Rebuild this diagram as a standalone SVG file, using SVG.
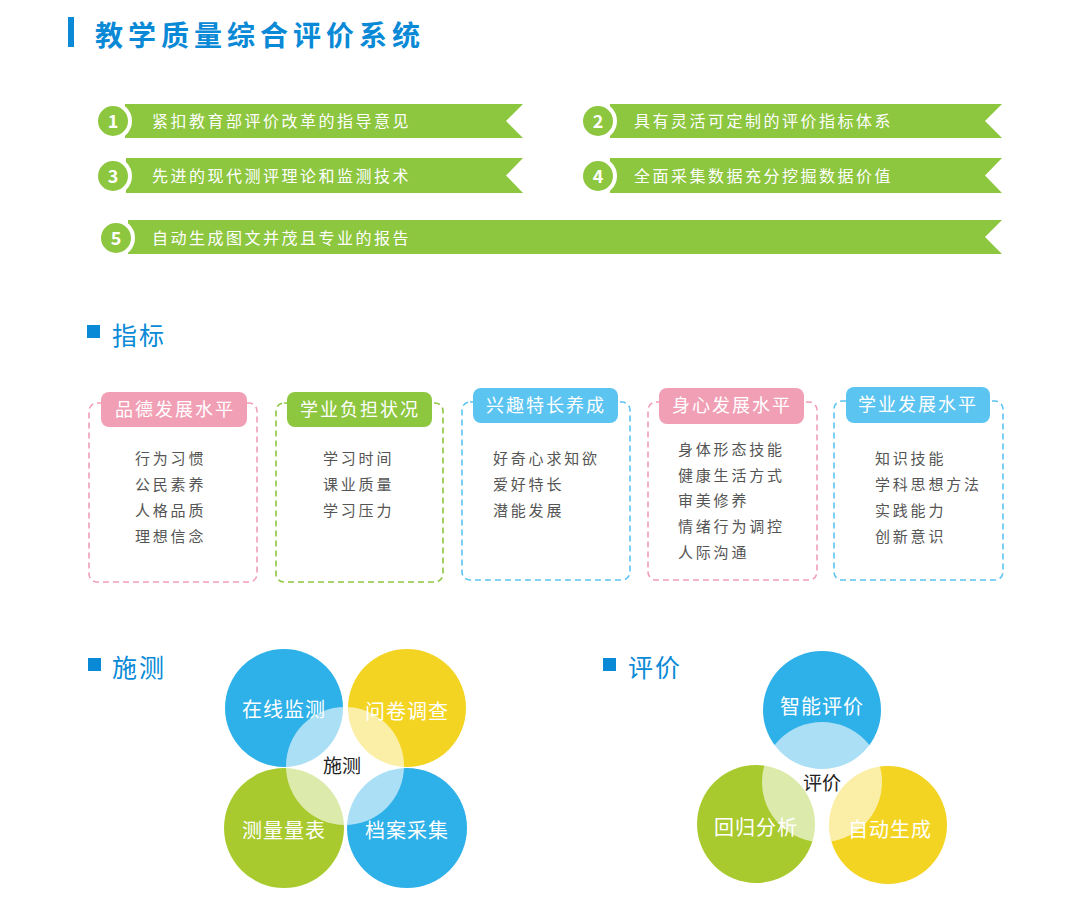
<svg xmlns="http://www.w3.org/2000/svg" width="1076" height="918" viewBox="0 0 1076 918">
<style>
text{font-family:"Noto Sans CJK SC","Noto Sans",sans-serif}
.banner{fill:#8DC63F}
.num{fill:#8DC63F;stroke:#fff;stroke-width:4}
.numt{fill:#fff;font-size:18px;font-weight:bold;text-anchor:middle}
.bt{fill:#fff;font-size:16px;letter-spacing:2.5px}
.h2{fill:#0A8AD6;font-size:25px;letter-spacing:2px}
.sq{fill:#0A8AD6}
.box{fill:none;stroke-width:1.6;stroke-dasharray:6 4}
.pt{fill:#fff;font-size:18px;letter-spacing:2px;text-anchor:middle}
.it{fill:#555;font-size:15px;letter-spacing:2.8px}
.ct{fill:#fff;font-size:20px;text-anchor:middle;letter-spacing:1px}
.cc{fill:#222;font-size:19px;text-anchor:middle}
.ov{fill:#fff;fill-opacity:0.6}
</style>
<rect width="1076" height="918" fill="#fff"/>
<g id="title">
<rect x="68" y="17" width="6" height="30" fill="#0A8AD6"/>
<text x="95" y="46" fill="#0A8AD6" font-size="28" font-weight="bold" letter-spacing="5">教学质量综合评价系统</text>
</g>
<g id="feature1">
<polygon class="banner" points="125,104 523,104 506,121 523,138 125,138"/>
<circle class="num" cx="113" cy="121" r="17"/>
<text class="numt" x="113" y="127.5">1</text>
<text class="bt" x="152" y="127">紧扣教育部评价改革的指导意见</text>
</g>
<g id="feature2">
<polygon class="banner" points="610,104 1002,104 985,121 1002,138 610,138"/>
<circle class="num" cx="598" cy="121" r="17"/>
<text class="numt" x="598" y="127.5">2</text>
<text class="bt" x="634" y="127">具有灵活可定制的评价指标体系</text>
</g>
<g id="feature3">
<polygon class="banner" points="126,158 523,158 506,175.5 523,193 126,193"/>
<circle class="num" cx="113" cy="176" r="17"/>
<text class="numt" x="113" y="182.5">3</text>
<text class="bt" x="152" y="182">先进的现代测评理论和监测技术</text>
</g>
<g id="feature4">
<polygon class="banner" points="610,158 1002,158 985,175.5 1002,193 610,193"/>
<circle class="num" cx="598" cy="176" r="17"/>
<text class="numt" x="598" y="182.5">4</text>
<text class="bt" x="634" y="182">全面采集数据充分挖掘数据价值</text>
</g>
<g id="feature5">
<polygon class="banner" points="128,220 1002,220 985,237 1002,254 128,254"/>
<circle class="num" cx="116" cy="238" r="17"/>
<text class="numt" x="116" y="244.5">5</text>
<text class="bt" x="152" y="244">自动生成图文并茂且专业的报告</text>
</g>
<g id="heading-indicators">
<rect class="sq" x="87" y="325" width="13" height="13"/>
<text class="h2" x="112" y="345">指标</text>
</g>
<g id="ind1">
<rect class="box" x="89" y="403" width="168" height="179" rx="8" stroke="#F19FB5"/>
<rect x="101" y="392" width="146" height="35" rx="8" fill="#F19FB5"/>
<text class="pt" x="175" y="416">品德发展水平</text>
<text class="it" x="135" y="464">行为习惯</text>
<text class="it" x="135" y="490">公民素养</text>
<text class="it" x="135" y="516">人格品质</text>
<text class="it" x="135" y="542">理想信念</text>
</g>
<g id="ind2">
<rect class="box" x="276" y="403" width="167" height="179" rx="8" stroke="#8DC63F"/>
<rect x="287" y="392" width="145" height="35" rx="8" fill="#8DC63F"/>
<text class="pt" x="360" y="416">学业负担状况</text>
<text class="it" x="323" y="464">学习时间</text>
<text class="it" x="323" y="490">课业质量</text>
<text class="it" x="323" y="516">学习压力</text>
</g>
<g id="ind3">
<rect class="box" x="462" y="402" width="168" height="178" rx="8" stroke="#5BC4F1"/>
<rect x="473" y="388" width="145" height="35" rx="8" fill="#5BC4F1"/>
<text class="pt" x="546" y="412">兴趣特长养成</text>
<text class="it" x="493" y="464">好奇心求知欲</text>
<text class="it" x="493" y="490">爱好特长</text>
<text class="it" x="493" y="516">潜能发展</text>
</g>
<g id="ind4">
<rect class="box" x="648" y="402" width="169" height="178" rx="8" stroke="#F19FB5"/>
<rect x="659" y="388" width="145" height="36" rx="8" fill="#F19FB5"/>
<text class="pt" x="732" y="412">身心发展水平</text>
<text class="it" x="678" y="455">身体形态技能</text>
<text class="it" x="678" y="481">健康生活方式</text>
<text class="it" x="678" y="506">审美修养</text>
<text class="it" x="678" y="532">情绪行为调控</text>
<text class="it" x="678" y="558">人际沟通</text>
</g>
<g id="ind5">
<rect class="box" x="834" y="401" width="169" height="179" rx="8" stroke="#5BC4F1"/>
<rect x="846" y="387" width="144" height="36" rx="8" fill="#5BC4F1"/>
<text class="pt" x="918" y="411">学业发展水平</text>
<text class="it" x="875" y="464">知识技能</text>
<text class="it" x="875" y="490">学科思想方法</text>
<text class="it" x="875" y="516">实践能力</text>
<text class="it" x="875" y="542">创新意识</text>
</g>
<g id="heading-test">
<rect class="sq" x="88" y="658" width="13" height="13"/>
<text class="h2" x="112" y="677">施测</text>
</g>
<g id="heading-eval">
<rect class="sq" x="603" y="658" width="13" height="13"/>
<text class="h2" x="628" y="677">评价</text>
</g>
<g id="test-diagram">
<circle cx="284" cy="708" r="59" fill="#2EB0E8"/>
<circle cx="407" cy="708" r="59" fill="#F4D422"/>
<circle cx="284" cy="828" r="60" fill="#A9CA2F"/>
<circle cx="407" cy="828" r="60" fill="#2EB0E8"/>
<circle class="ov" cx="345" cy="766" r="59"/>
<text class="ct" x="284" y="717">在线监测</text>
<text class="ct" x="407" y="719">问卷调查</text>
<text class="ct" x="284" y="838">测量量表</text>
<text class="ct" x="407" y="838">档案采集</text>
<text class="cc" x="342" y="773">施测</text>
</g>
<g id="eval-diagram">
<circle cx="822" cy="710" r="59" fill="#2EB0E8"/>
<circle cx="756" cy="824" r="59" fill="#A9CA2F"/>
<circle cx="888" cy="825" r="59" fill="#F4D422"/>
<circle class="ov" cx="822" cy="782" r="60"/>
<text class="ct" x="822" y="714">智能评价</text>
<text class="ct" x="756" y="835">回归分析</text>
<text class="ct" x="890" y="837">自动生成</text>
<text class="cc" x="822" y="790">评价</text>
</g>
</svg>
